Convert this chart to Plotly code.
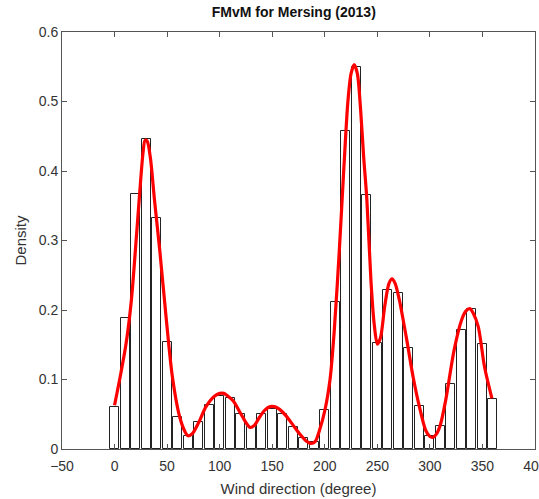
import plotly.graph_objects as go

# Histogram bins (bin centres, degrees) and densities
bin_centers = [0, 10, 20, 30, 40, 50, 60, 70, 80, 90, 100, 110, 120, 130, 140, 150, 160, 170, 180,
               190, 200, 210, 220, 230, 240, 250, 260, 270, 280, 290, 300, 310, 320, 330, 340, 350, 360]
bin_density = [0.061, 0.188, 0.367, 0.446, 0.332, 0.154, 0.046, 0.019, 0.039, 0.063, 0.076, 0.073,
               0.051, 0.032, 0.051, 0.058, 0.051, 0.032, 0.016, 0.010, 0.056, 0.211, 0.457, 0.550,
               0.366, 0.152, 0.229, 0.225, 0.145, 0.062, 0.019, 0.033, 0.093, 0.171, 0.201, 0.151, 0.072]

# Fitted FMvM density curve
curve_x = [0, 6, 11, 16, 21, 24, 27, 29, 31, 34, 38, 43, 49, 55, 62, 67, 70, 74, 80, 87, 95, 100, 104,
           108, 113, 120, 125, 129, 133, 138, 143, 148, 152, 157, 163, 170, 176, 182, 187, 191, 195, 200,
           205, 209, 214, 218, 222, 225, 228, 231, 234, 237, 240, 244, 247, 250, 253, 257, 261, 264, 267,
           271, 278, 284, 290, 296, 300, 303, 306, 310, 315, 323, 330, 334, 338, 341, 346, 352, 359]
curve_y = [0.063, 0.109, 0.152, 0.214, 0.31, 0.37, 0.425, 0.444, 0.443, 0.42, 0.358, 0.286, 0.19, 0.104,
           0.046, 0.025, 0.019, 0.022, 0.038, 0.061, 0.076, 0.080, 0.080, 0.076, 0.069, 0.051, 0.038,
           0.031, 0.034, 0.046, 0.056, 0.061, 0.061, 0.057, 0.048, 0.034, 0.022, 0.012, 0.008, 0.011,
           0.027, 0.055, 0.10, 0.17, 0.29, 0.40, 0.50, 0.54, 0.553, 0.54, 0.49, 0.42, 0.36, 0.24, 0.18,
           0.151, 0.16, 0.205, 0.238, 0.245, 0.238, 0.214, 0.157, 0.104, 0.061, 0.027, 0.018, 0.017,
           0.021, 0.035, 0.070, 0.142, 0.185, 0.198, 0.202, 0.196, 0.176, 0.118, 0.073]

x_ticks = [-50, 0, 50, 100, 150, 200, 250, 300, 350, 400]
y_ticks = [0, 0.1, 0.2, 0.3, 0.4, 0.5, 0.6]
y_tick_labels = ["0", "0.1", "0.2", "0.3", "0.4", "0.5", "0.6"]

fig = go.Figure()
fig.add_trace(go.Bar(x=bin_centers, y=bin_density, width=8.5,
                     marker=dict(color="white", line=dict(color="#222222", width=1)),
                     showlegend=False))
fig.add_trace(go.Scatter(x=curve_x, y=curve_y, mode="lines",
                         line=dict(color="#ff0000", width=3.2, shape="spline", smoothing=0.8),
                         showlegend=False))

axis_common = dict(showline=True, linecolor="#555555", linewidth=1, mirror="ticks",
                   ticks="inside", ticklen=5, tickcolor="#555555", showgrid=False, zeroline=False,
                   automargin=False, ticklabeloverflow="allow",
                   tickfont=dict(family="Liberation Sans, Arial", size=14, color="#333333"))

fig.update_layout(
    width=539, height=499,
    margin=dict(l=62, r=4, t=32, b=50),
    paper_bgcolor="white", plot_bgcolor="white",
    bargap=0,
    title=dict(text="<b>FMvM for Mersing (2013)</b>", x=0.545, xanchor="center", y=0.976, yanchor="middle",
               font=dict(family="Liberation Sans, Arial", size=14, color="#111111")),
    xaxis=dict(range=[-50, 400], tickvals=x_ticks, ticklabelstandoff=4,
               title=dict(text="Wind direction (degree)", standoff=10,
                          font=dict(family="Liberation Sans, Arial", size=15, color="#333333")), **axis_common),
    yaxis=dict(range=[0, 0.6], tickvals=y_ticks, ticktext=y_tick_labels,
               title=dict(text="Density", standoff=8,
                          font=dict(family="Liberation Sans, Arial", size=15, color="#333333")), **axis_common),
)

fig.write_html("out.html", config={"displayModeBar": False},
               post_script="document.body.style.margin='0';document.body.style.overflow='hidden';")
